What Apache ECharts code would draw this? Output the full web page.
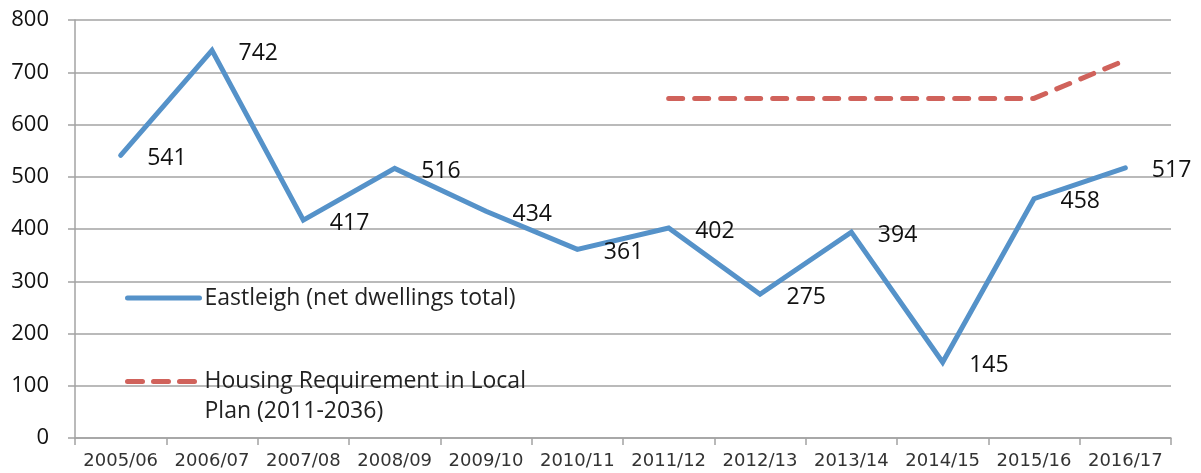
<!DOCTYPE html>
<html>
<head>
<meta charset="utf-8">
<script src="https://cdn.jsdelivr.net/npm/echarts@6/dist/echarts.min.js"></script>
<style>html,body{margin:0;padding:0;background:#fff;}#chart{width:1201px;height:473px;}</style>
</head>
<body>
<div id="chart"></div>
<script>
const categories = ['2005/06','2006/07','2007/08','2008/09','2009/10','2010/11','2011/12','2012/13','2013/14','2014/15','2015/16','2016/17'];
const eastleigh = [541, 742, 417, 516, 434, 361, 402, 275, 394, 145, 458, 517];
const requirement = [null, null, null, null, null, null, 650, 650, 650, 650, 650, 723];
const yTicks = [0, 800, 100];
const seriesNames = ['Eastleigh (net dwellings total)', 'Housing Requirement in Local\nPlan (2011-2036)'];

const blue = '#5592c9';
const red = '#d0625b';
const gridColor = '#a3a3a3';
const chart = echarts.init(document.getElementById('chart'));
chart.setOption({
  animation: false,
  grid: { left: 75, right: 30, top: 20, bottom: 35 },
  legend: [
    {
      orient: 'vertical', left: 120, top: 278, itemWidth: 72, itemHeight: 14, itemGap: 0,
      data: [{ name: seriesNames[0] }],
      itemStyle: { opacity: 0 },
      lineStyle: { width: 5, color: blue, cap: 'round' },
      textStyle: { fontFamily: 'Open Sans', fontSize: 23, color: '#222', lineHeight: 30 },
      selectedMode: false
    },
    {
      orient: 'vertical', left: 120, top: 365, itemWidth: 72, itemHeight: 14, itemGap: 0,
      data: [{ name: seriesNames[1] }],
      itemStyle: { opacity: 0 },
      lineStyle: { width: 5, color: red, type: [15, 11], cap: 'round' },
      formatter: function (name) {
        return name.split('\n').map(function (s) { return '{a|' + s + '}'; }).join('\n');
      },
      textStyle: {
        padding: [30, 0, 0, 0],
        rich: { a: { fontFamily: 'Open Sans', fontSize: 23, color: '#222', lineHeight: 30 } }
      },
      selectedMode: false
    }
  ],
  xAxis: {
    type: 'category', data: categories, boundaryGap: true,
    axisLine: { lineStyle: { color: gridColor, width: 1.5 } },
    axisTick: { show: true, length: 7, lineStyle: { color: gridColor, width: 1.5 } },
    axisLabel: { interval: 0, margin: 14, fontFamily: 'DejaVu Sans', fontSize: 18, color: '#333' }
  },
  yAxis: {
    type: 'value', min: yTicks[0], max: yTicks[1], interval: yTicks[2],
    axisLine: { show: true, lineStyle: { color: gridColor, width: 1.5 } },
    axisTick: { show: true, length: 7, lineStyle: { color: gridColor, width: 1.5 } },
    splitLine: { lineStyle: { color: gridColor, width: 1.5 } },
    axisLabel: { margin: 26, fontFamily: 'Open Sans', fontSize: 22, color: '#111' }
  },
  series: [
    {
      name: seriesNames[0], type: 'line', data: eastleigh,
      symbol: 'circle', symbolSize: 1, showSymbol: true, z: 3,
      lineStyle: { color: blue, width: 5, cap: 'round', join: 'miter' },
      itemStyle: { color: blue },
      label: { show: true, position: 'right', distance: 26, offset: [0, 3], fontFamily: 'Open Sans', fontSize: 23, color: '#111' }
    },
    {
      name: seriesNames[1], type: 'line', data: requirement,
      symbol: 'none', z: 2,
      lineStyle: { color: red, width: 5, type: [14, 12], cap: 'round' },
      itemStyle: { color: red }
    }
  ]
});
</script>
</body>
</html>
